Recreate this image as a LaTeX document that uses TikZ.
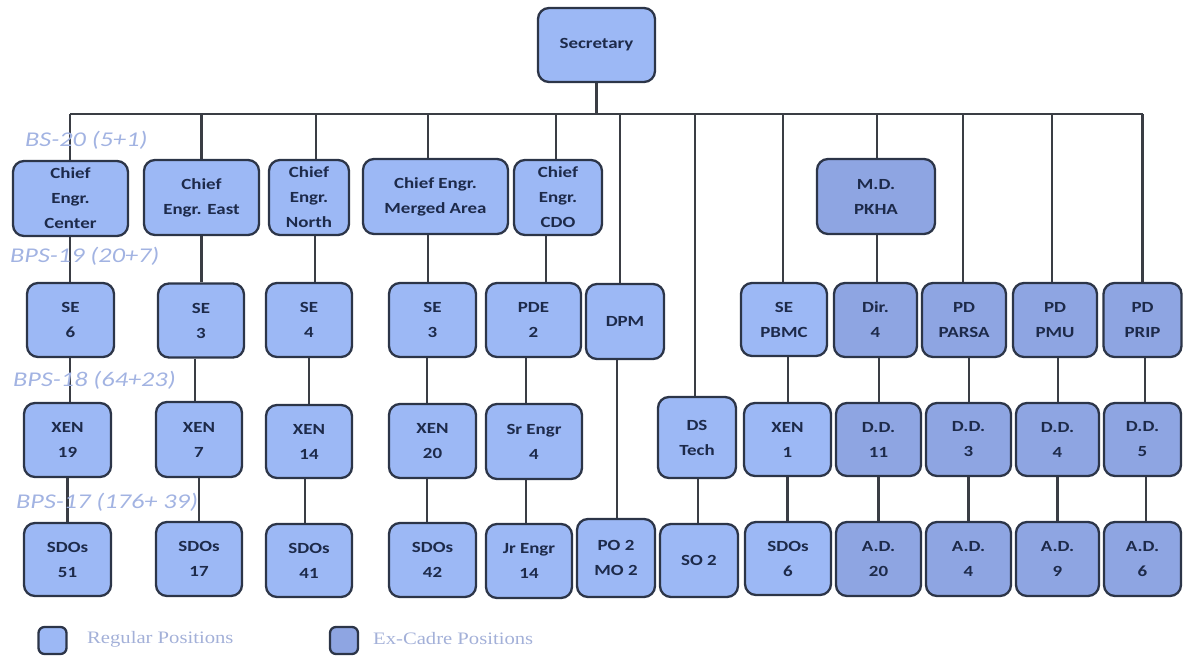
\documentclass[tikz,border=0pt]{standalone}
\usepackage{fontspec}
\newfontfamily\boxfont{Carlito}[FakeStretch=1.22]
\newfontfamily\lvlfont{Carlito}[FakeStretch=1.25]
\newfontfamily\legfont{Liberation Serif}[FakeStretch=1.18]
\definecolor{regfill}{HTML}{9CB8F5}
\definecolor{exfill}{HTML}{8EA5E2}
\definecolor{edge}{HTML}{2C3548}
\definecolor{ink}{HTML}{1D2A4A}
\definecolor{wire}{HTML}{3A3D44}
\definecolor{lvl}{HTML}{A2B3E2}
\definecolor{legink}{HTML}{A3B0D8}
\pgfdeclarelayer{bg}
\pgfsetlayers{bg,main}
\tikzset{
  post/.style={draw=edge, line width=2.3pt, rounded corners=11pt, fill=regfill,
    text=ink, align=center, inner sep=0pt,
    font=\boxfont\bfseries\fontsize{15.5}{25}\selectfont},
  excadre/.style={post, fill=exfill},
  wirestyle/.style={draw=wire, line width=2.2pt},
  level/.style={anchor=west, text=lvl, inner sep=0pt,
    font=\lvlfont\itshape\fontsize{21}{21}\selectfont},
  legbox/.style={draw=edge, line width=2.3pt, rounded corners=6pt,
    minimum width=28pt, minimum height=27pt, inner sep=0pt},
  legtext/.style={anchor=west, text=legink, inner sep=0pt,
    font=\legfont\fontsize{17.5}{17.5}\selectfont}
}
% vertical link from the bottom of #1 to the top of #2, shifted by #3
\newcommand\linkdown[3]{\draw[wirestyle] ([xshift=#3]#1.south) -- ([xshift=#3]#1.south |- #2.north);}
% drop from the bus to the top of #1, shifted by #2
\newcommand\busdrop[2]{\draw[wirestyle] ([xshift=#2]#1.north |- busL) -- ([xshift=#2]#1.north);}
\begin{document}
\begin{tikzpicture}[x=1pt,y=-1pt]
\useasboundingbox (0,0) rectangle (1183,656);

% head of department
\node[post, minimum width=117pt, minimum height=74pt] (sec) at (596.5,45) {Secretary};

% chief engineers and M.D.
\node[post, minimum width=115pt, minimum height=75pt] (ceC) at (70.5,198.5) {Chief\\Engr.\\Center};
\node[post, minimum width=115pt, minimum height=75pt] (ceE) at (201.5,197.5) {Chief\\Engr. East};
\node[post, minimum width=80pt, minimum height=75pt] (ceN) at (309,197.5) {Chief\\Engr.\\North};
\node[post, minimum width=145pt, minimum height=75pt] (ceM) at (435.5,196.5) {Chief Engr.\\Merged Area};
\node[post, minimum width=88pt, minimum height=75pt] (ceD) at (558,197.5) {Chief\\Engr.\\CDO};
\node[excadre, minimum width=118pt, minimum height=75pt] (mdp) at (876,196.5) {M.D.\\PKHA};

% BPS-19 row
\node[post, minimum width=87pt, minimum height=74pt] (se6) at (70.5,320) {SE\\6};
\node[post, minimum width=86pt, minimum height=74pt] (se3a) at (201,320.5) {SE\\3};
\node[post, minimum width=86pt, minimum height=74pt] (se4) at (309,320) {SE\\4};
\node[post, minimum width=87pt, minimum height=74pt] (se3b) at (432.5,320) {SE\\3};
\node[post, minimum width=95pt, minimum height=74pt] (pde) at (533.5,320) {PDE\\2};
\node[post, minimum width=78pt, minimum height=75pt] (dpm) at (625,321.5) {DPM};
\node[post, minimum width=86pt, minimum height=73pt] (sepb) at (784,319.5) {SE\\PBMC};
\node[excadre, minimum width=83pt, minimum height=74pt] (dir) at (875.5,320) {Dir.\\4};
\node[excadre, minimum width=84pt, minimum height=74pt] (parsa) at (964,320) {PD\\PARSA};
\node[excadre, minimum width=84pt, minimum height=74pt] (pmu) at (1055,320) {PD\\PMU};
\node[excadre, minimum width=78pt, minimum height=74pt] (prip) at (1142.5,320) {PD\\PRIP};

% BPS-18 row
\node[post, minimum width=87pt, minimum height=74pt] (xen19) at (67.5,440) {XEN\\19};
\node[post, minimum width=86pt, minimum height=75pt] (xen7) at (199,439.5) {XEN\\7};
\node[post, minimum width=86pt, minimum height=73pt] (xen14) at (309,441.5) {XEN\\14};
\node[post, minimum width=87pt, minimum height=74pt] (xen20) at (432.5,441) {XEN\\20};
\node[post, minimum width=96pt, minimum height=75pt] (sreng) at (534,441.5) {Sr Engr\\4};
\node[post, minimum width=78pt, minimum height=81pt] (dst) at (697,437.5) {DS\\Tech};
\node[post, minimum width=87pt, minimum height=73pt] (xen1) at (787.5,439.5) {XEN\\1};
\node[excadre, minimum width=85pt, minimum height=73pt] (dd11) at (878.5,439.5) {D.D.\\11};
\node[excadre, minimum width=85pt, minimum height=73pt] (dd3) at (968.5,439.5) {D.D.\\3};
\node[excadre, minimum width=83pt, minimum height=73pt] (dd4) at (1057.5,439.5) {D.D.\\4};
\node[excadre, minimum width=77pt, minimum height=73pt] (dd5) at (1142.5,439.5) {D.D.\\5};

% BPS-17 row
\node[post, minimum width=87pt, minimum height=73pt] (sdo51) at (67.5,559.5) {SDOs\\51};
\node[post, minimum width=86pt, minimum height=74pt] (sdo17) at (199,559) {SDOs\\17};
\node[post, minimum width=86pt, minimum height=73pt] (sdo41) at (309,560.5) {SDOs\\41};
\node[post, minimum width=87pt, minimum height=74pt] (sdo42) at (432.5,560) {SDOs\\42};
\node[post, minimum width=86pt, minimum height=74pt] (jreng) at (529,561) {Jr Engr\\14};
\node[post, minimum width=78pt, minimum height=78pt] (pomo) at (616,558) {PO 2\\MO 2};
\node[post, minimum width=78pt, minimum height=73pt] (so2) at (699,560.5) {SO 2};
\node[post, minimum width=86pt, minimum height=73pt] (sdo6) at (788,558.5) {SDOs\\6};
\node[excadre, minimum width=85pt, minimum height=74pt] (ad20) at (878.5,559) {A.D.\\20};
\node[excadre, minimum width=85pt, minimum height=74pt] (ad4) at (968.5,559) {A.D.\\4};
\node[excadre, minimum width=83pt, minimum height=74pt] (ad9) at (1057.5,559) {A.D.\\9};
\node[excadre, minimum width=77pt, minimum height=74pt] (ad6) at (1142.5,559) {A.D.\\6};

% connectors, kept behind the boxes
\begin{pgfonlayer}{bg}
\coordinate (busL) at (70,114);
\coordinate (busR) at (1143,114);
\draw[wirestyle] (sec.south) -- (sec.south |- busL);
\draw[wirestyle] (busL) -- (busR);
\busdrop{ceC}{-0.5pt}
\busdrop{ceE}{0pt}
\busdrop{ceN}{7pt}
\busdrop{ceM}{-7.5pt}
\busdrop{ceD}{-2pt}
\busdrop{dpm}{-5pt}
\busdrop{dst}{-2pt}
\busdrop{sepb}{-1pt}
\busdrop{mdp}{1pt}
\busdrop{parsa}{-1pt}
\busdrop{pmu}{-3pt}
\busdrop{prip}{0pt}
\linkdown{ceC}{se6}{-0.5pt}
\linkdown{se6}{xen19}{-0.5pt}
\linkdown{xen19}{sdo51}{0pt}
\linkdown{ceE}{se3a}{0pt}
\linkdown{se3a}{xen7}{-6pt}
\linkdown{xen7}{sdo17}{0pt}
\linkdown{ceN}{se4}{6pt}
\linkdown{se4}{xen14}{0pt}
\linkdown{xen14}{sdo41}{-4pt}
\linkdown{ceM}{se3b}{-7.5pt}
\linkdown{se3b}{xen20}{-5.5pt}
\linkdown{xen20}{sdo42}{-5.5pt}
\linkdown{ceD}{pde}{-12pt}
\linkdown{pde}{sreng}{-7.5pt}
\linkdown{sreng}{jreng}{-8pt}
\linkdown{dpm}{pomo}{-8pt}
\linkdown{dst}{so2}{1pt}
\linkdown{sepb}{xen1}{4pt}
\linkdown{xen1}{sdo6}{0pt}
\linkdown{mdp}{dir}{1pt}
\linkdown{dir}{dd11}{3.5pt}
\linkdown{dd11}{ad20}{0pt}
\linkdown{parsa}{dd3}{5pt}
\linkdown{dd3}{ad4}{0pt}
\linkdown{pmu}{dd4}{3pt}
\linkdown{dd4}{ad9}{0pt}
\linkdown{prip}{dd5}{2.5pt}
\linkdown{dd5}{ad6}{3.5pt}
\end{pgfonlayer}

% pay-scale levels
\node[level] (l20) at (25,140) {BS-20 (5+1)};
\node[level] (l19) at (10,256) {BPS-19 (20+7)};
\node[level] (l18) at (13,380) {BPS-18 (64+23)};
\node[level] (l17) at (16,502) {BPS-17 (176+ 39)};

% legend
\node[legbox, fill=regfill] (kreg) at (52.5,640.5) {};
\node[legtext] (treg) at (87,639) {Regular Positions};
\node[legbox, fill=exfill] (kex) at (344,640.5) {};
\node[legtext] (tex) at (373,639) {Ex-Cadre Positions};
\end{tikzpicture}
\end{document}
